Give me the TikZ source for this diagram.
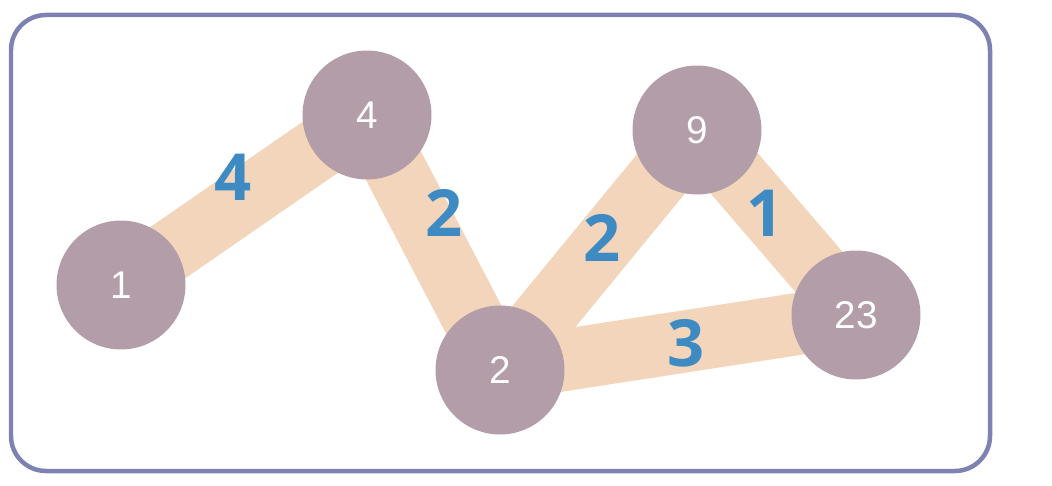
\documentclass[tikz,border=0pt]{standalone}
\usepackage{fontspec}
\setmainfont{Liberation Sans}
\newfontfamily\labelfont{Open Sans}
\usepackage{xcolor}
\usepackage{tikz}
\usetikzlibrary{backgrounds}
\definecolor{simpul}{RGB}{179, 157, 169}
\definecolor{sisi}{RGB}{242, 213, 186}
\definecolor{bobot}{RGB}{61, 139, 194}
\definecolor{bingkai}{RGB}{126, 130, 178}

\begin{document}
\begin{tikzpicture}[
    x=0.02cm, y=-0.02cm,
    simpulgraf/.style={circle, fill=simpul, text=white, inner sep=0pt,
                       minimum size=2.58cm, font=\fontsize{22}{24}\selectfont},
    sisigraf/.style={draw=sisi, line width=1.24cm},
    labelbobot/.style={text=bobot, font=\labelfont\bfseries\fontsize{37}{40}\selectfont,
                       inner sep=0pt}
  ]
    \useasboundingbox (0,0) rectangle (1052,486);
    \draw[bingkai, line width=0.09cm, rounded corners=0.7cm] (11,15) rectangle (990,471);
    \node[simpulgraf] (s1)  at (121,285) {1};
    \node[simpulgraf] (s4)  at (367,115) {4};
    \node[simpulgraf] (s2)  at (500,370) {2};
    \node[simpulgraf] (s9)  at (697,130) {9};
    \node[simpulgraf] (s23) at (856,315) {23};
    \begin{scope}[on background layer]
      \draw[sisigraf] (s1.center) -- node[labelbobot, pos=0.455, yshift=17pt] {4} (s4.center);
      \draw[sisigraf] (s4.center) -- node[labelbobot, pos=0.384, xshift=15pt] {2} (s2.center);
      \draw[sisigraf] (s2.center) -- node[labelbobot, pos=0.55, xshift=-3.4pt] {2} (s9.center);
      \draw[sisigraf] (s9.center) -- node[labelbobot, pos=0.449, xshift=-1.7pt] {1} (s23.center);
      \draw[sisigraf] (s2.center) -- node[labelbobot, pos=0.522, yshift=-1pt] {3} (s23.center);
    \end{scope}
  \end{tikzpicture}
\end{document}
